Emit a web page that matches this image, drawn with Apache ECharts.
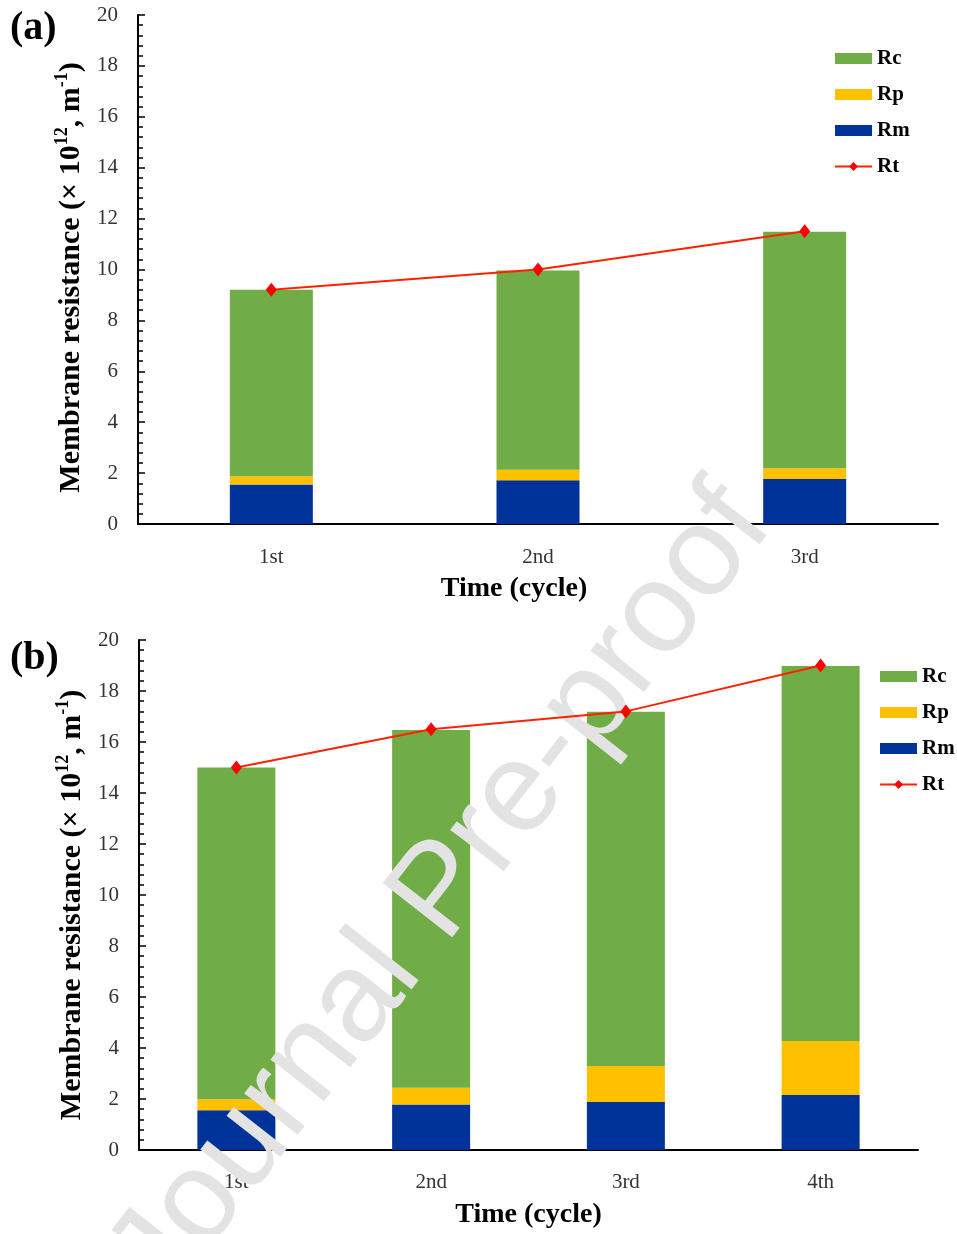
<!DOCTYPE html>
<html>
<head>
<meta charset="utf-8">
<script src="https://cdn.jsdelivr.net/npm/echarts@6/dist/echarts.min.js"></script>
<style>
  html, body { margin: 0; padding: 0; background: #fff; }
  #chart { width: 957px; height: 1234px; }
</style>
</head>
<body>
<div id="chart"></div>
<script>
// panel (a)
const cyclesA = ["1st", "2nd", "3rd"];
const rmA = [1.55, 1.72, 1.77];
const rpA = [0.33, 0.41, 0.42];
const rcA = [7.32, 7.83, 9.29];
const rtA = [9.2, 10.0, 11.5];
// panel (b)
const cyclesB = ["1st", "2nd", "3rd", "4th"];
const rmB = [1.56, 1.78, 1.88, 2.16];
const rpB = [0.43, 0.66, 1.41, 2.11];
const rcB = [13.01, 14.03, 13.9, 14.71];
const rtB = [15.0, 16.5, 17.2, 19.0];

const serif = "Liberation Serif";
const colors = { Rc: "#70AD47", Rp: "#FFC000", Rm: "#003399", Rt: "#ff0000" };
const yName = "{a|Membrane resistance (× 10}{s|12}{a|, m}{s|-1}{a|)}";

const makeX = (idx, cats, shift, margin) => ({
  type: "category",
  gridIndex: idx,
  data: cats,
  axisLine: { lineStyle: { color: "#000", width: 2 } },
  axisTick: { inside: true, length: 7, lineStyle: { color: "#000", width: 1.5 } },
  axisLabel: { margin: margin, fontFamily: serif, fontSize: 21, color: "#333" },
  name: "Time (cycle)",
  nameLocation: "middle",
  nameGap: 51,
  nameTextStyle: { fontFamily: serif, fontSize: 28, fontWeight: "bold", color: "#000", padding: [0, shift, 0, 0] },
});

const makeY = (idx, down) => ({
  type: "value",
  gridIndex: idx,
  min: 0,
  max: 20,
  interval: 2,
  splitLine: { show: false },
  axisLine: { show: true, lineStyle: { color: "#000", width: 2 } },
  axisTick: { show: true, inside: true, length: 7, lineStyle: { color: "#000", width: 1.5 } },
  minorTick: { show: true, splitNumber: 5, length: 5, lineStyle: { color: "#000", width: 1.5 } },
  axisLabel: { margin: 20, fontFamily: serif, fontSize: 21, color: "#333" },
  name: yName,
  nameLocation: "middle",
  nameRotate: 90,
  nameGap: 44,
  nameTextStyle: {
    padding: [0, down, 0, 0],
    rich: {
      a: { fontFamily: serif, fontSize: 30, fontWeight: "bold", color: "#000", lineHeight: 36 },
      s: { fontFamily: serif, fontSize: 18, fontWeight: "bold", color: "#000", lineHeight: 19, verticalAlign: "top" },
    },
  },
});

const barsFor = (idx, stack, width, rm, rp, rc) =>
  [["Rm", rm], ["Rp", rp], ["Rc", rc]].map(([name, data]) => ({
    name: name,
    type: "bar",
    stack: stack,
    xAxisIndex: idx,
    yAxisIndex: idx,
    barWidth: width,
    itemStyle: { color: colors[name] },
    data: data,
  }));

const lineFor = (idx, data) => ({
  name: "Rt",
  type: "line",
  xAxisIndex: idx,
  yAxisIndex: idx,
  symbol: "diamond",
  symbolSize: [11, 14],
  z: 150,
  lineStyle: { color: "#ff2200", width: 2 },
  itemStyle: { color: colors.Rt },
  data: data,
});

const makeLegend = (left, top) => ({
  orient: "vertical",
  left: left,
  top: top,
  itemWidth: 37,
  itemHeight: 11,
  itemGap: 15,
  textStyle: { fontFamily: serif, fontSize: 21, fontWeight: "bold", color: "#000" },
  data: [
    { name: "Rc", icon: "rect" },
    { name: "Rp", icon: "rect" },
    { name: "Rm", icon: "rect" },
    { name: "Rt" },
  ],
});

var myChart = echarts.init(document.getElementById("chart"));
var option = {
  animation: false,
  grid: [
    { left: 138, top: 15, width: 800, height: 509 },
    { left: 139, top: 640, width: 779, height: 510 },
  ],
  legend: [makeLegend(829, 43), makeLegend(874, 661)],
  xAxis: [makeX(0, cyclesA, 48, 23), makeX(1, cyclesB, 0, 22)],
  yAxis: [makeY(0, 16), makeY(1, 20)],
  series: [
    ...barsFor(0, "a", 83, rmA, rpA, rcA),
    lineFor(0, rtA),
    ...barsFor(1, "b", 78, rmB, rpB, rcB),
    lineFor(1, rtB),
  ],
  graphic: [
    { type: "text", left: 10, top: 9, style: { text: "(a)", fontFamily: serif, fontSize: 40, fontWeight: "bold", fill: "#000" } },
    { type: "text", left: 10, top: 639, style: { text: "(b)", fontFamily: serif, fontSize: 40, fontWeight: "bold", fill: "#000" } },
    {
      type: "text",
      x: 442,
      y: 893,
      rotation: 0.907,
      z: 100,
      style: {
        text: "Journal Pre-proof",
        fontFamily: "Liberation Sans",
        fontSize: 128,
        fill: "#e3e3e3",
        align: "center",
        verticalAlign: "middle",
      },
    },
  ],
};
option && myChart.setOption(option);
</script>
</body>
</html>
